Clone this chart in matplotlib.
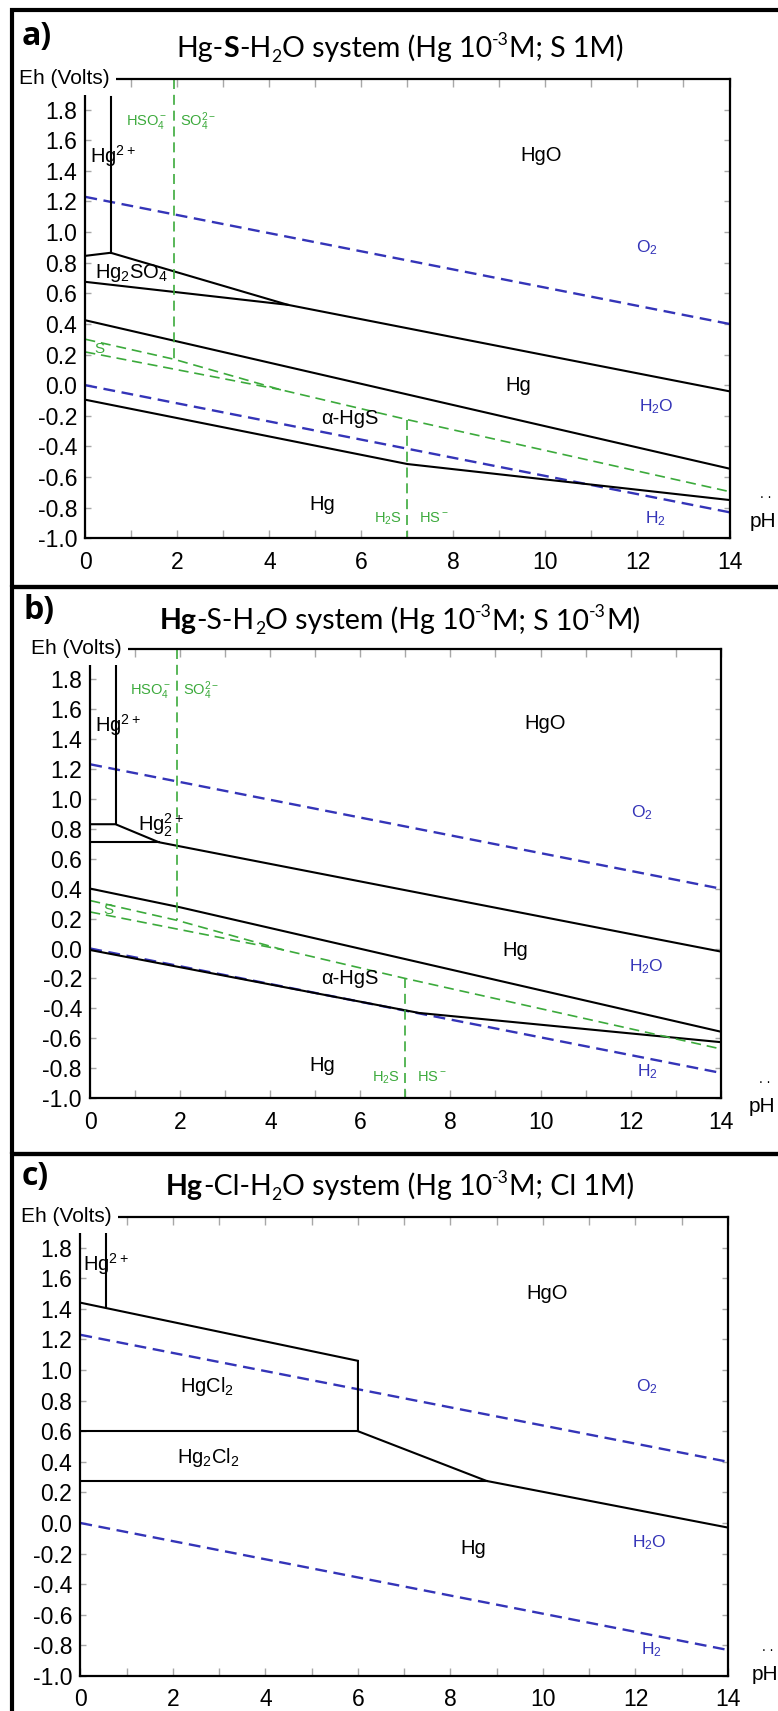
import numpy as np
import matplotlib
matplotlib.use('Agg')
import matplotlib.pyplot as plt
from matplotlib.patches import Rectangle
from matplotlib.ticker import MultipleLocator
from matplotlib.transforms import IdentityTransform

plt.rcParams['font.family'] = ['Liberation Sans', 'DejaVu Sans']
plt.rcParams['axes.unicode_minus'] = False
plt.rcParams['mathtext.fontset'] = 'custom'
plt.rcParams['mathtext.rm'] = 'Liberation Sans'
plt.rcParams['mathtext.it'] = 'Liberation Sans'
plt.rcParams['mathtext.bf'] = 'Liberation Sans:bold'
plt.rcParams['mathtext.default'] = 'regular'

BLUE = '#3434b8'
GREEN = '#3caa3c'

eh_ticks = [-1.0, -0.8, -0.6, -0.4, -0.2, 0.0, 0.2, 0.4, 0.6, 0.8, 1.0, 1.2, 1.4, 1.6, 1.8]
eh_ticklabels = ['-1.0', '-0.8', '-0.6', '-0.4', '-0.2', '0.0', '0.2', '0.4', '0.6', '0.8',
                 '1.0', '1.2', '1.4', '1.6', '1.8']

# water stability limits, same on every panel
ph_water = [0, 14]
eh_o2 = [1.23, 0.40]
eh_h2 = [0.0, -0.83]

# a) Hg-S-H2O, Hg 1e-3 M, S 1 M
a_hg2_ph = [0.55, 0.55]
a_hg2_eh = [1.88, 0.865]
a_hgo_ph = [0, 0.55, 4.4, 14]
a_hgo_eh = [0.845, 0.865, 0.525, -0.04]
a_hg2so4_ph = [0, 4.4]
a_hg2so4_eh = [0.675, 0.525]
a_hgs_up_ph = [0, 14]
a_hgs_up_eh = [0.424, -0.545]
a_hgs_lo_ph = [0, 7, 14]
a_hgs_lo_eh = [-0.095, -0.515, -0.75]
a_sul_up_ph = [0, 1.92, 4.25, 7, 14]
a_sul_up_eh = [0.30, 0.17, -0.03, -0.225, -0.695]
a_sul_lo_ph = [0, 4.25]
a_sul_lo_eh = [0.217, -0.03]
a_hso4_ph = [1.92, 1.92]
a_hso4_eh = [2.0, 0.17]
a_h2s_ph = [7, 7]
a_h2s_eh = [-0.225, -1.0]

# b) Hg-S-H2O, Hg 1e-3 M, S 1e-3 M
b_hg2_ph = [0.56, 0.56]
b_hg2_eh = [1.91, 0.83]
b_hgo_ph = [0, 0.56, 1.52, 14]
b_hgo_eh = [0.83, 0.83, 0.71, -0.02]
b_hg22_ph = [0, 1.52]
b_hg22_eh = [0.71, 0.71]
b_hgs_up_ph = [0, 2, 14]
b_hgs_up_eh = [0.40, 0.275, -0.555]
b_hgs_lo_ph = [0, 7.3, 14]
b_hgs_lo_eh = [-0.01, -0.43, -0.625]
b_sul_up_ph = [0, 1.93, 4.3, 7, 14]
b_sul_up_eh = [0.32, 0.188, -0.01, -0.20, -0.67]
b_sul_lo_ph = [0, 4.3]
b_sul_lo_eh = [0.244, -0.01]
b_hso4_ph = [1.93, 1.93]
b_hso4_eh = [2.0, 0.188]
b_h2s_ph = [7, 7]
b_h2s_eh = [-0.20, -1.0]

# c) Hg-Cl-H2O, Hg 1e-3 M, Cl 1 M
c_hg2_ph = [0.55, 0.55]
c_hg2_eh = [1.89, 1.41]
c_hgo_ph = [0, 6.0, 6.0, 8.78, 14]
c_hgo_eh = [1.44, 1.06, 0.60, 0.275, -0.03]
c_hgcl2_ph = [0, 6.0]
c_hgcl2_eh = [0.60, 0.60]
c_hg2cl2_ph = [0, 8.78]
c_hg2cl2_eh = [0.275, 0.275]

W, H = 778, 1711
fig = plt.figure(figsize=(W / 100, H / 100), dpi=100)
rend = fig.canvas.get_renderer()


def fbox(l, t, r, b):
    # pixel box -> figure fraction [left, bottom, width, height]
    return [l / W, 1 - b / H, (r - l) / W, (b - t) / H]


def frame(ax, eh_right):
    ax.set_xlim(0, 14)
    ax.set_ylim(-1, 2)
    ax.xaxis.set_major_locator(MultipleLocator(2))
    ax.xaxis.set_minor_locator(MultipleLocator(1))
    ax.set_yticks(eh_ticks)
    ax.set_yticklabels(eh_ticklabels)
    ax.tick_params(which='both', direction='in', top=True, right=True,
                   color='#a8a8a8', width=1, labelsize=16.5)
    ax.tick_params(axis='x', which='both', length=6, pad=9)
    ax.tick_params(axis='y', length=4, pad=6)
    for s in ax.spines.values():
        s.set_linewidth(1.6)
    ax.text(eh_right, 1.0, 'Eh (Volts)', transform=ax.transAxes, ha='right',
            va='center', fontsize=15, zorder=10,
            bbox=dict(fc='white', ec='none', boxstyle='square,pad=0.3'))


def water(ax):
    ax.plot(ph_water, eh_o2, color=BLUE, lw=1.7, dashes=(5, 2.8))
    ax.plot(ph_water, eh_h2, color=BLUE, lw=1.7, dashes=(5, 2.8))


def black(ax, x, y):
    ax.plot(x, y, color='black', lw=1.5, solid_joinstyle='miter')


def green(ax, x, y):
    ax.plot(x, y, color=GREEN, lw=1.2, dashes=(6, 3.5))


def lab(ax, x, y, s, c='black', fs=14.5, ha='center'):
    ax.text(x, y, s, color=c, fontsize=fs, ha=ha, va='center')


def tail(ax, px, py, dy):
    ax.text(px, py, 'pH', transform=ax.transAxes, fontsize=15, ha='left', va='center')
    ax.text(px + 0.016, py + dy, '. .', transform=ax.transAxes, fontsize=10,
            ha='left', va='center')


def title(base, parts, fs=20.5):
    # piecewise title so bold / sub / sup parts can sit in one line
    arts, x = [], 0.0
    for s, kind in parts:
        size = fs * 0.62 if kind in ('sub', 'sup') else fs
        dy = {'sub': -5, 'sup': 12}.get(kind, 0)
        t = fig.text(x, dy, s, transform=IdentityTransform(), family='Lato',
                     fontsize=size, weight='bold' if kind == 'bold' else 'normal',
                     va='baseline', ha='left')
        x += t.get_window_extent(rend).width
        arts.append(t)
    x0 = 400 - x / 2
    for t in arts:
        px, py = t.get_position()
        t.set_position((x0 + px, H - base + py))


def tag(x, y, s):
    fig.text(x / W, 1 - y / H, s, family='Open Sans', weight='bold', fontsize=23,
             ha='left', va='center')


# panel frames
for t, b in [(10, 587), (587, 1154), (1154, 1760)]:
    fig.add_artist(Rectangle((12 / W, 1 - b / H), 1.2, (b - t) / H,
                             transform=fig.transFigure, fill=False,
                             ec='black', lw=3, clip_on=False))

# ---------------- a ----------------
ax = fig.add_axes(fbox(85.4, 79, 729.5, 538.3))
frame(ax, 0.038)
water(ax)
black(ax, a_hg2_ph, a_hg2_eh)
black(ax, a_hgo_ph, a_hgo_eh)
black(ax, a_hg2so4_ph, a_hg2so4_eh)
black(ax, a_hgs_up_ph, a_hgs_up_eh)
black(ax, a_hgs_lo_ph, a_hgs_lo_eh)
green(ax, a_sul_up_ph, a_sul_up_eh)
green(ax, a_sul_lo_ph, a_sul_lo_eh)
green(ax, a_hso4_ph, a_hso4_eh)
green(ax, a_h2s_ph, a_h2s_eh)
lab(ax, 1.78, 1.72, r'HSO$_4^-$', GREEN, 10.5, 'right')
lab(ax, 2.05, 1.72, r'SO$_4^{2-}$', GREEN, 10.5, 'left')
lab(ax, 0.1, 1.50, r'Hg$^{2+}$', ha='left')
lab(ax, 9.9, 1.50, 'HgO')
lab(ax, 12.2, 0.90, r'O$_2$', BLUE, 12.5)
lab(ax, 0.2, 0.73, r'Hg$_2$SO$_4$', ha='left')
lab(ax, 0.2, 0.235, 'S', GREEN, 11, 'left')
lab(ax, 9.4, 0.0, 'Hg')
lab(ax, 12.4, -0.14, r'H$_2$O', BLUE, 12.5)
lab(ax, 5.75, -0.22, 'α-HgS')
lab(ax, 5.15, -0.78, 'Hg')
lab(ax, 6.87, -0.87, r'H$_2$S', GREEN, 10.5, 'right')
lab(ax, 7.25, -0.87, r'HS$^-$', GREEN, 10.5, 'left')
lab(ax, 12.4, -0.87, r'H$_2$', BLUE, 12.5)
tail(ax, 1.032, 0.037, 0.06)
title(57, [('Hg-', ''), ('S', 'bold'), ('-H', ''), ('2', 'sub'),
           ('O system (Hg 10', ''), ('-3', 'sup'), ('M; S 1M)', '')])
tag(22, 36, 'a)')

# ---------------- b ----------------
ax = fig.add_axes(fbox(90.3, 649, 720.6, 1098.3))
frame(ax, 0.05)
water(ax)
black(ax, b_hg2_ph, b_hg2_eh)
black(ax, b_hgo_ph, b_hgo_eh)
black(ax, b_hg22_ph, b_hg22_eh)
black(ax, b_hgs_up_ph, b_hgs_up_eh)
black(ax, b_hgs_lo_ph, b_hgs_lo_eh)
green(ax, b_sul_up_ph, b_sul_up_eh)
green(ax, b_sul_lo_ph, b_sul_lo_eh)
green(ax, b_hso4_ph, b_hso4_eh)
green(ax, b_h2s_ph, b_h2s_eh)
lab(ax, 1.8, 1.72, r'HSO$_4^-$', GREEN, 10.5, 'right')
lab(ax, 2.05, 1.72, r'SO$_4^{2-}$', GREEN, 10.5, 'left')
lab(ax, 0.1, 1.49, r'Hg$^{2+}$', ha='left')
lab(ax, 10.1, 1.50, 'HgO')
lab(ax, 12.25, 0.91, r'O$_2$', BLUE, 12.5)
lab(ax, 1.06, 0.82, r'Hg$_2^{2+}$', ha='left')
lab(ax, 0.3, 0.255, 'S', GREEN, 11, 'left')
lab(ax, 9.43, -0.01, 'Hg')
lab(ax, 12.35, -0.12, r'H$_2$O', BLUE, 12.5)
lab(ax, 5.77, -0.20, 'α-HgS')
lab(ax, 5.15, -0.78, 'Hg')
lab(ax, 6.87, -0.86, r'H$_2$S', GREEN, 10.5, 'right')
lab(ax, 7.26, -0.86, r'HS$^-$', GREEN, 10.5, 'left')
lab(ax, 12.38, -0.82, r'H$_2$', BLUE, 12.5)
tail(ax, 1.045, -0.018, 0.062)
title(629, [('Hg', 'bold'), ('-S-H', ''), ('2', 'sub'), ('O system (Hg 10', ''),
            ('-3', 'sup'), ('M; S 10', ''), ('-3', 'sup'), ('M)', '')])
tag(24, 610, 'b)')

# ---------------- c ----------------
ax = fig.add_axes(fbox(80.4, 1217, 728, 1676))
frame(ax, 0.048)
water(ax)
black(ax, c_hg2_ph, c_hg2_eh)
black(ax, c_hgo_ph, c_hgo_eh)
black(ax, c_hgcl2_ph, c_hgcl2_eh)
black(ax, c_hg2cl2_ph, c_hg2cl2_eh)
lab(ax, 0.06, 1.69, r'Hg$^{2+}$', ha='left')
lab(ax, 10.1, 1.50, 'HgO')
lab(ax, 2.74, 0.89, r'HgCl$_2$')
lab(ax, 12.25, 0.89, r'O$_2$', BLUE, 12.5)
lab(ax, 2.76, 0.43, r'Hg$_2$Cl$_2$')
lab(ax, 8.5, -0.165, 'Hg')
lab(ax, 12.3, -0.13, r'H$_2$O', BLUE, 12.5)
lab(ax, 12.35, -0.83, r'H$_2$', BLUE, 12.5)
tail(ax, 1.037, 0.004, 0.06)
title(1195, [('Hg', 'bold'), ('-Cl-H', ''), ('2', 'sub'), ('O system (Hg 10', ''),
             ('-3', 'sup'), ('M; Cl 1M)', '')])
tag(22, 1177, 'c)')

fig.savefig('out.png', dpi=100)
